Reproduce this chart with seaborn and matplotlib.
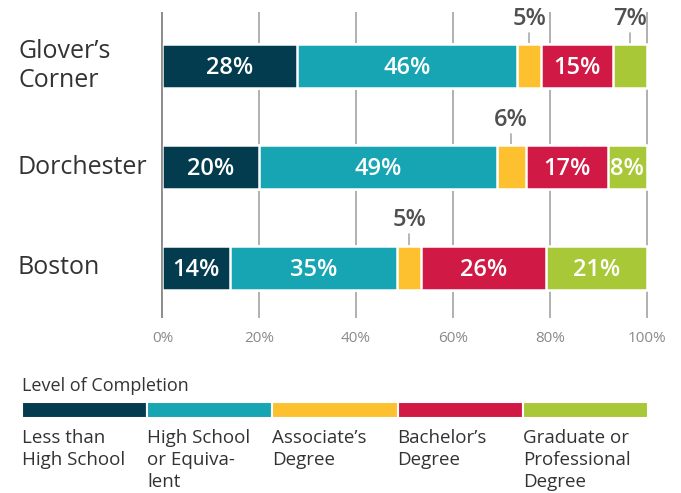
import numpy as np
import pandas as pd
import seaborn as sns
import matplotlib.pyplot as plt
from matplotlib.transforms import blended_transform_factory

# data
regions = ["Glover\u2019s\nCorner", "Dorchester", "Boston"]
levels = ["Less than\nHigh School", "High School\nor Equiva-\nlent", "Associate\u2019s\nDegree",
          "Bachelor\u2019s\nDegree", "Graduate or\nProfessional\nDegree"]
less_hs = [28, 20, 14]
high_school = [46, 49, 35]
associate = [5, 6, 5]
bachelor = [15, 17, 26]
graduate = [7, 8, 21]
colors = ["#033c4e", "#17a5b3", "#fdc12f", "#d01a45", "#a8c838"]

sns.set_theme(style="white")
plt.rcParams['font.family'] = ['Open Sans', 'DejaVu Sans']

vals = np.array([less_hs, high_school, associate, bachelor, graduate], dtype=float)
shares = vals / vals.sum(axis=0) * 100  # rows don't quite add to 100, stretch to full width
cum = shares.cumsum(axis=0)

fig = plt.figure(figsize=(6.81, 4.93), dpi=100)
W, H = 681, 493
ax = fig.add_axes([161 / W, 1 - 318 / H, (649 - 161) / W, (318 - 12) / H])

# stacked bars: draw cumulative widths from longest to shortest
for k in range(4, -1, -1):
    df = pd.DataFrame({"region": regions, "value": cum[k]})
    sns.barplot(data=df, x="value", y="region", orient="h", color=colors[k],
                width=0.44, edgecolor="white", linewidth=1.8, saturation=1,
                ax=ax, zorder=3)

ax.set_xlim(-0.3, 100.5)
ax.set_ylim(2.5, -0.54)
ax.set_xticks(range(0, 101, 20))
ax.set_xticklabels([f"{t}%" for t in range(0, 101, 20)], fontsize=11, color="#8a8a8a")
ax.tick_params(axis="x", length=0, pad=9)
ax.set_yticks([])
ax.set_xlabel("")
ax.set_ylabel("")
for s in ax.spines.values():
    s.set_visible(False)
ax.grid(axis="x", color="#b0b0b0", linewidth=1.4, zorder=0)
ax.axvline(-0.3, color="#8c8c8c", linewidth=2, zorder=4)

# region names
tr = blended_transform_factory(fig.transFigure, ax.transData)
for i, r in enumerate(regions):
    ax.text(18 / W, i, r, transform=tr, ha="left", va="center", fontsize=18,
            color="#333333", linespacing=1.2)

# segment labels
for i in range(3):
    for k in range(5):
        v = int(vals[k, i])
        left = cum[k, i] - shares[k, i]
        xc = left + shares[k, i] / 2
        if k == 2 or (k == 4 and i == 0):
            ax.plot([xc, xc], [i - 0.23, i - 0.33], color="#aaaaaa", linewidth=1.2, zorder=2)
            ax.text(xc, i - 0.35, f"{v}%", ha="center", va="bottom", fontsize=17,
                    fontweight="semibold", color="#505050")
        else:
            ax.text(xc, i + 0.02, f"{v}%", ha="center", va="center", fontsize=17,
                    fontweight="semibold", color="white", zorder=5)

# legend strip
fig.text(22 / W, 1 - 386 / H, "Level of Completion", ha="left", va="center",
         fontsize=13, color="#333333")
lax = fig.add_axes([22 / W, 1 - 418 / H, (648 - 22) / W, 16 / H])
for k in range(5):
    lax.barh(0, 1, left=k, height=1, color=colors[k], edgecolor="white", linewidth=1.5)
    fig.text((22 + k * 125.2) / W, 1 - 429 / H, levels[k], ha="left", va="top",
             fontsize=13.5, color="#333333", linespacing=1.3)
lax.set_xlim(0, 5)
lax.set_ylim(-0.5, 0.5)
lax.axis("off")

fig.savefig("out.png", dpi=100)
